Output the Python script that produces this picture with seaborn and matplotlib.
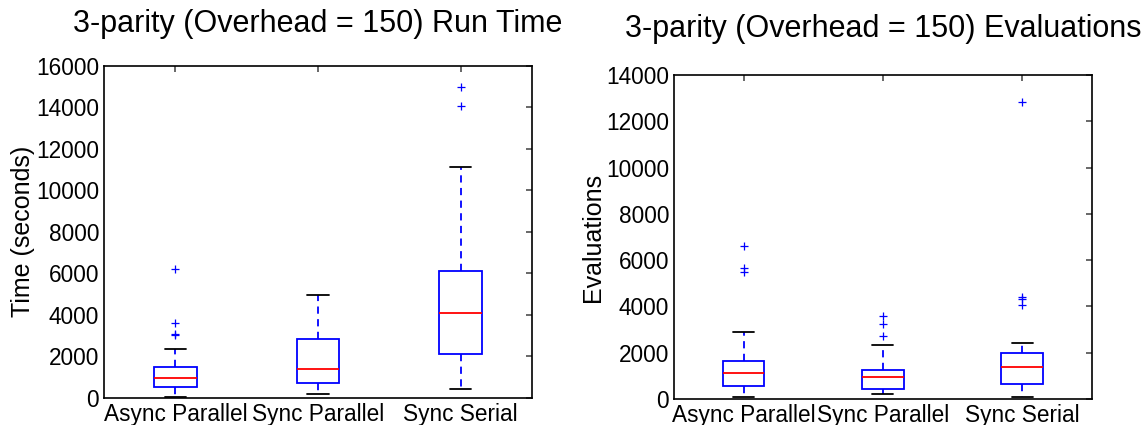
import pandas as pd
import matplotlib
matplotlib.use("Agg")
import matplotlib.pyplot as plt
import seaborn as sns

# categorias e amostras (21 execuções por método)
metodos = ['Async Parallel', 'Sync Parallel', 'Sync Serial']

tempo_async_par = [50, 200, 300, 400, 480, 514, 600, 700, 800, 880, 931, 1000, 1100, 1250, 1380, 1461,
                   2361, 3019, 3067, 3613, 6183]
tempo_sync_par = [193, 300, 400, 550, 620, 690, 800, 950, 1100, 1250, 1365, 1600, 1900, 2200, 2500, 2826,
                  3200, 3600, 4000, 4500, 4930]
tempo_sync_ser = [401, 800, 1200, 1600, 1900, 2104, 2500, 2900, 3300, 3700, 4063, 4500, 4900, 5300, 5700,
                  6087, 7000, 8500, 11129, 14084, 14968]

aval_async_par = [101, 200, 300, 400, 480, 547, 650, 750, 850, 1000, 1109, 1200, 1300, 1450, 1550, 1656,
                  1900, 2895, 5473, 5646, 6611]
aval_sync_par = [202, 250, 300, 350, 390, 418, 500, 600, 700, 820, 936, 1000, 1080, 1150, 1220, 1267,
                 1500, 2333, 2722, 3255, 3601]
aval_sync_ser = [101, 250, 400, 500, 580, 648, 800, 950, 1100, 1250, 1383, 1500, 1650, 1800, 1900, 1973,
                 2420, 4050, 4321, 4422, 12819]


def monta_df(series):
    linhas = []
    for nome, valores in zip(metodos, series):
        for v in valores:
            linhas.append({'metodo': nome, 'valor': v})
    return pd.DataFrame(linhas)


def desenha(ax, df, titulo, ylabel, ymax, pad):
    sns.boxplot(ax=ax, data=df, x='metodo', y='valor', order=metodos, width=0.3, whis=1.5,
                color='white', linecolor='blue', linewidth=1.3,
                boxprops=dict(facecolor='white', edgecolor='blue'),
                whiskerprops=dict(color='blue', linestyle=(0, (4, 3))),
                capprops=dict(color='black'),
                medianprops=dict(color='red'),
                flierprops=dict(marker='+', markeredgecolor='blue', markerfacecolor='blue',
                                markersize=6, markeredgewidth=0.9))
    ax.set_xlim(-0.5, 2.5)
    ax.set_ylim(0, ymax)
    ax.set_yticks(range(0, ymax + 1, 2000))
    ax.set_title(titulo, fontsize=22, pad=pad)
    ax.set_ylabel(ylabel, fontsize=18, labelpad=1)
    ax.set_xlabel('')
    ax.tick_params(axis='both', direction='in', top=True, right=True, labelsize=16.3, length=4,
                   color='#555555', labelcolor='black')
    for s in ax.spines.values():
        s.set_color('black')
        s.set_linewidth(1.2)


sns.set_theme(style="white")
plt.rcParams['font.family'] = ['Liberation Sans', 'DejaVu Sans']
plt.rcParams['text.color'] = 'black'
plt.rcParams['axes.labelcolor'] = 'black'

fig = plt.figure(figsize=(11.47, 4.25), dpi=100)
ax1 = fig.add_axes([0.0907, 0.0642, 0.3731, 0.781])
ax2 = fig.add_axes([0.5876, 0.0612, 0.3642, 0.7624])

desenha(ax1, monta_df([tempo_async_par, tempo_sync_par, tempo_sync_ser]),
        '3-parity (Overhead = 150) Run Time', 'Time (seconds)', 16000, 24)
desenha(ax2, monta_df([aval_async_par, aval_sync_par, aval_sync_ser]),
        '3-parity (Overhead = 150) Evaluations', 'Evaluations', 14000, 27)

fig.savefig('out.png', dpi=100, facecolor='white')
